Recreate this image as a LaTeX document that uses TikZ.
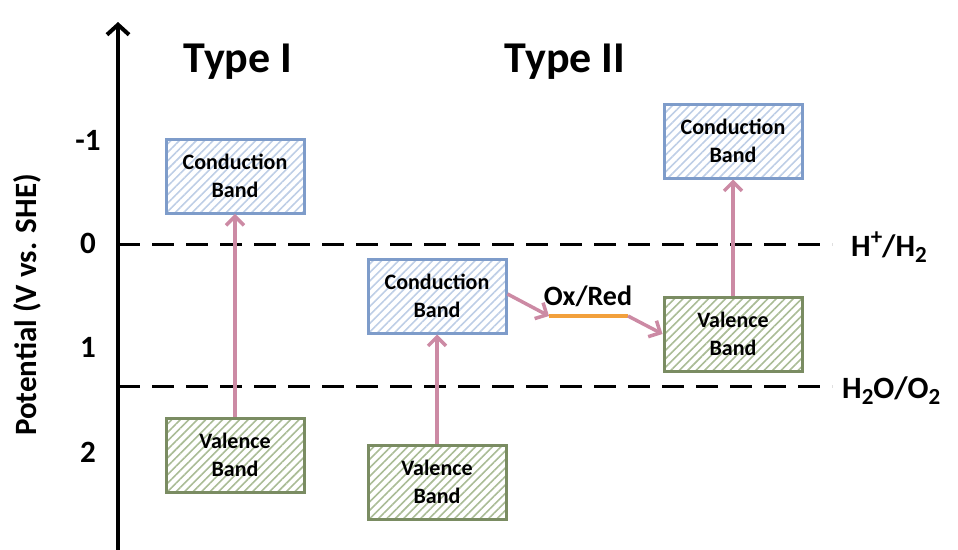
\documentclass[tikz,border=0pt]{standalone}
\usepackage{fontspec}
\setmainfont{Carlito}
\usetikzlibrary{arrows.meta,patterns.meta}
\definecolor{cbBorder}{RGB}{126,156,202}
\definecolor{cbHatch}{RGB}{190,206,230}
\definecolor{vbBorder}{RGB}{122,140,98}
\definecolor{vbHatch}{RGB}{170,188,150}
\definecolor{pinkArr}{RGB}{204,138,164}
\definecolor{oxOrange}{RGB}{242,160,60}
\newcommand\mysubs[1]{\raisebox{-0.2em}{\fontsize{23}{23}\selectfont #1}}
\newcommand\mysups[1]{\raisebox{0.38em}{\fontsize{23}{23}\selectfont #1}}
\tikzset{
  cbbox/.style={draw=cbBorder, line width=3pt, minimum width=138pt, minimum height=74pt,
    pattern={Lines[angle=45,distance=6pt,line width=1.6pt]}, pattern color=cbHatch,
    align=center, font=\bfseries\fontsize{22}{28}\selectfont, inner sep=0pt},
  vbbox/.style={draw=vbBorder, line width=3pt, minimum width=138pt, minimum height=74pt,
    pattern={Lines[angle=45,distance=6pt,line width=1.6pt]}, pattern color=vbHatch,
    align=center, font=\bfseries\fontsize{22}{28}\selectfont, inner sep=0pt},
  excite/.style={draw=pinkArr, line width=3.5pt, -{Straight Barb[length=9pt,width=18pt,line width=3.5pt]}},
  refline/.style={line width=3pt, dash pattern=on 22pt off 12pt},
  lbl/.style={font=\bfseries\fontsize{31}{36}\selectfont, inner sep=0pt},
}
\begin{document}
\begin{tikzpicture}[x=1pt,y=-1pt]
\useasboundingbox (0,0) rectangle (958,549);
% axis
\coordinate (axb) at (118,552);
\coordinate (axt) at (118,22);
\draw[line width=4pt, -{Straight Barb[length=10pt,width=22pt,line width=4pt]}] (axb) -- (axt);
\node[lbl, rotate=90] (ylab) at (27,305) {Potential (V vs. SHE)};
\node[lbl] (tm1) at (88,140) {-1};
\node[lbl] (t0) at (88,243) {0};
\node[lbl] (t1) at (88,347) {1};
\node[lbl] (t2) at (88,452) {2};
% reference lines
\coordinate (h1a) at (118,244);
\coordinate (h1b) at (832,244);
\coordinate (h2a) at (118,386);
\coordinate (h2b) at (832,386);
\draw[refline] (h1a) -- (h1b);
\draw[refline] (h2a) -- (h2b);
\node[lbl, anchor=west] (hh) at (851,247) {H\mysups{+}/H\mysubs{2}};
\node[lbl, anchor=west] (wo) at (842,391) {H\mysubs{2}O/O\mysubs{2}};
% titles
\node[font=\bfseries\fontsize{44}{48}\selectfont] (ty1) at (238,62) {Type I};
\node[font=\bfseries\fontsize{44}{48}\selectfont] (ty2) at (565,62) {Type II};
% Type I
\node[cbbox] (cb1) at (235,176) {Conduction\\Band};
\node[vbbox] (vb1) at (235,455) {Valence\\Band};
\draw[excite] (vb1.north) -- (cb1.south);
% Type II left
\node[cbbox] (cb2) at (437,296) {Conduction\\Band};
\node[vbbox] (vb2) at (437,482) {Valence\\Band};
\draw[excite] (vb2.north) -- (cb2.south);
% Type II right
\node[cbbox] (cb3) at (733,141) {Conduction\\Band};
\node[vbbox] (vb3) at (733,334) {Valence\\Band};
\draw[excite] (vb3.north) -- (cb3.south);
% Ox/Red
\coordinate (oxl) at (549,316);
\coordinate (oxr) at (628,316);
\draw[oxOrange, line width=3.5pt] (oxl) -- (oxr);
\node[font=\bfseries\fontsize{28}{32}\selectfont] (oxlab) at (588,296) {Ox/Red};
\draw[excite] (cb2.east |- 0,294) -- (oxl);
\draw[excite] (oxr) -- (vb3.west |- 0,334);
\end{tikzpicture}
\end{document}
